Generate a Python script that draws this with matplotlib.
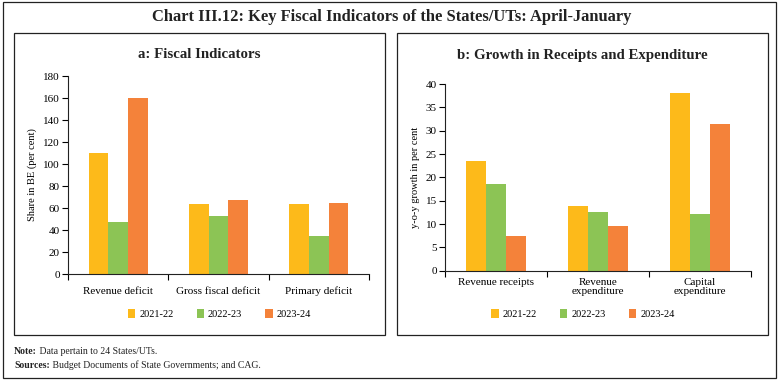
import matplotlib
matplotlib.use("Agg")
import matplotlib.pyplot as plt
from matplotlib.patches import Rectangle, Patch
import numpy as np

plt.rcParams['font.family'] = ['Liberation Serif', 'DejaVu Serif']

years = ["2021-22", "2022-23", "2023-24"]
colors = ["#FDBA1A", "#8CC455", "#F4823A"]

cats_a = ["Revenue deficit", "Gross fiscal deficit", "Primary deficit"]
a_2122 = [110, 64, 64]
a_2223 = [47.5, 53, 35]
a_2324 = [160, 67, 65]

cats_b = ["Revenue receipts", "Revenue\nexpenditure", "Capital\nexpenditure"]
b_2122 = [23.4, 13.9, 38.0]
b_2223 = [18.6, 12.6, 12.1]
b_2324 = [7.5, 9.6, 31.4]

W, H = 779, 381
fig = plt.figure(figsize=(W / 100, H / 100), dpi=100)

def px_rect(x0, y0, x1, y1, lw=0.9):
    fig.patches.append(Rectangle((x0 / W, 1 - y1 / H), (x1 - x0) / W, (y1 - y0) / H,
                                 transform=fig.transFigure, fill=False,
                                 edgecolor="#222222", linewidth=lw))

# outer border and panel boxes
px_rect(3, 2, 776, 378)
px_rect(14, 33, 385, 335)
px_rect(397, 33, 768, 335)

fig.text(392 / W, 1 - 17 / H, "Chart III.12: Key Fiscal Indicators of the States/UTs: April-January",
         ha="center", va="center", fontsize=11.9, fontweight="bold", color="#222222")
fig.text(199 / W, 1 - 55 / H, "a: Fiscal Indicators", ha="center", va="center",
         fontsize=10.7, fontweight="bold", color="#222222")
fig.text(582 / W, 1 - 55 / H, "b: Growth in Receipts and Expenditure", ha="center", va="center",
         fontsize=10.7, fontweight="bold", color="#222222")

def make_axes(x0, y0, x1, y1):
    return fig.add_axes([x0 / W, 1 - y1 / H, (x1 - x0) / W, (y1 - y0) / H])

def draw(ax, cats, series, ymax, ystep, ylabel, xpad):
    n = len(cats)
    x = np.arange(n)
    bw = 0.197
    for i, vals in enumerate(series):
        ax.bar(x + (i - 1) * bw, vals, width=bw, color=colors[i], edgecolor="none")
    ax.set_xlim(-0.5, n - 0.5)
    ax.set_ylim(0, ymax)
    ax.set_yticks(np.arange(0, ymax + 0.1, ystep))
    ax.set_xticks(np.arange(-0.5, n, 1.0))
    ax.set_xticklabels([])
    ax.set_xticks(x, minor=True)
    ax.set_xticklabels(cats, minor=True, fontsize=8, linespacing=1.1)
    ax.tick_params(axis="x", which="minor", length=0, pad=xpad)
    ax.tick_params(axis="x", which="major", length=4, direction="out", width=0.8)
    ax.tick_params(axis="y", length=4, direction="out", width=0.8, labelsize=8, pad=2)
    for s in ["top", "right"]:
        ax.spines[s].set_visible(False)
    for s in ["left", "bottom"]:
        ax.spines[s].set_linewidth(0.8)
        ax.spines[s].set_color("#222222")
    ax.set_ylabel(ylabel, fontsize=7.5, labelpad=4)
    ax.set_facecolor("none")

axa = make_axes(68, 76, 369, 274)
draw(axa, cats_a, [a_2122, a_2223, a_2324], 180, 20, "Share in BE (per cent)", 9)

axb = make_axes(445, 84, 751, 270.7)
draw(axb, cats_b, [b_2122, b_2223, b_2324], 40, 5, "y-o-y growth in per cent", 5)

handles = [Patch(facecolor=c, edgecolor="none", label=y) for c, y in zip(colors, years)]
for cx in (219.5, 583):
    fig.legend(handles=handles, loc="center", bbox_to_anchor=(cx / W, 1 - 314 / H),
               ncol=3, frameon=False, fontsize=7.5, handlelength=0.7, handleheight=0.9,
               handletextpad=0.4, columnspacing=2.2)

renderer = fig.canvas.get_renderer()
for ypx, bold, rest in [(352, "Note:", " Data pertain to 24 States/UTs."),
                        (365, "Sources:", " Budget Documents of State Governments; and CAG.")]:
    t = fig.text(14 / W, 1 - ypx / H, bold, fontsize=7, fontweight="bold",
                 va="center", ha="left", color="#222222")
    bb = t.get_window_extent(renderer=renderer)
    fig.text(bb.x1 / W, 1 - ypx / H, rest, fontsize=7, va="center", ha="left", color="#222222")

fig.savefig("out.png", dpi=100)
